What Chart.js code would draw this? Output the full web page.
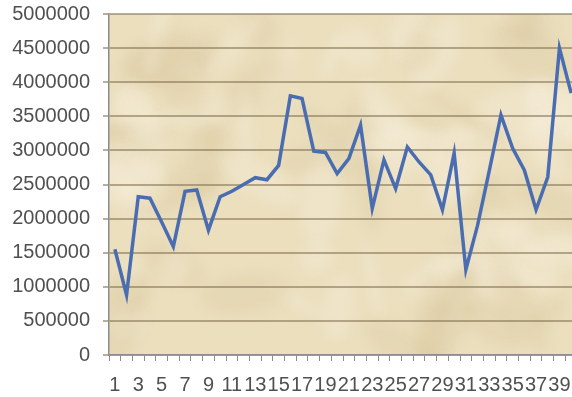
<!DOCTYPE html>
<html>
<head>
<meta charset="utf-8">
<script src="https://cdn.jsdelivr.net/npm/chart.js@4/dist/chart.umd.min.js"></script>
<style>
  html, body { margin: 0; padding: 0; background: #ffffff; overflow: hidden; }
  #wrap { position: relative; width: 590px; height: 397px; }
</style>
</head>
<body>
<div id="wrap"><canvas id="c"></canvas></div>
<script>
// Categories 1..40
const categories = ['1','2','3','4','5','6','7','8','9','10','11','12','13','14','15','16','17','18','19','20',
                    '21','22','23','24','25','26','27','28','29','30','31','32','33','34','35','36','37','38','39','40'];

// Series values
const values = [1550000, 880000, 2320000, 2300000, 1950000, 1590000, 2400000, 2420000, 1830000, 2320000,
                2400000, 2500000, 2600000, 2570000, 2780000, 3800000, 3760000, 2990000, 2970000, 2660000,
                2880000, 3370000, 2150000, 2860000, 2440000, 3050000, 2830000, 2640000, 2130000, 2960000,
                1250000, 1900000, 2700000, 3520000, 3030000, 2710000, 2130000, 2610000, 4500000, 3840000];

// Value axis settings
const yMin = 0;
const yMax = 5000000;
const yStep = 500000;

// Parchment fill behind the plot area
function hash(n) {
  const s = Math.sin(n * 127.1 + 311.7) * 43758.5453;
  return s - Math.floor(s);
}
const parchment = {
  id: 'parchment',
  beforeDraw(chart) {
    const { ctx, chartArea: a } = chart;
    ctx.save();
    ctx.beginPath();
    ctx.rect(a.left, a.top, a.right - a.left, a.bottom - a.top);
    ctx.clip();
    ctx.fillStyle = '#ebdfbe';
    ctx.fillRect(a.left, a.top, a.right - a.left, a.bottom - a.top);
    ctx.filter = 'blur(6px)';
    for (let i = 0; i < 90; i++) {
      const x = a.left + hash(i) * (a.right - a.left);
      const y = a.top + hash(i + 100) * (a.bottom - a.top);
      const rx = 15 + hash(i + 200) * 40;
      const ry = 6 + hash(i + 300) * 16;
      const light = hash(i + 400) > 0.5;
      ctx.fillStyle = light ? 'rgba(246,239,218,0.35)' : 'rgba(216,199,156,0.28)';
      ctx.beginPath();
      ctx.ellipse(x, y, rx, ry, hash(i + 500) * Math.PI, 0, Math.PI * 2);
      ctx.fill();
    }
    ctx.restore();
  }
};

const gridColor = 'rgba(128,110,78,0.55)';
const axisColor = '#8c8c8c';
const labelColor = '#505050';

new Chart(document.getElementById('c'), {
  type: 'line',
  data: {
    labels: categories,
    datasets: [{
      data: values,
      borderColor: '#4a6db2',
      borderWidth: 3.5,
      pointRadius: 0,
      tension: 0,
      fill: false
    }]
  },
  options: {
    responsive: true,
    maintainAspectRatio: false,
    animation: false,
    layout: { padding: { top: 14, right: 13, bottom: 0, left: 0 } },
    plugins: { legend: { display: false }, tooltip: { enabled: false } },
    scales: {
      x: {
        offset: true,
        grid: {
          offset: true,
          drawOnChartArea: false,
          drawTicks: true,
          tickLength: 6,
          color: axisColor
        },
        border: { display: true, color: axisColor, width: 1.5 },
        ticks: {
          autoSkip: false,
          maxRotation: 0,
          minRotation: 0,
          padding: 12,
          color: labelColor,
          font: { family: 'Liberation Sans', size: 20 },
          callback: (v, i) => (i % 2 === 0 ? categories[i] : '')
        },
        afterFit: (s) => { s.height = 42; s.paddingLeft = 0; s.paddingRight = 0; }
      },
      y: {
        min: yMin,
        max: yMax,
        grid: {
          color: gridColor,
          lineWidth: 2,
          drawTicks: true,
          tickLength: 6
        },
        border: { display: true, color: axisColor, width: 1.5 },
        ticks: {
          stepSize: yStep,
          padding: 13,
          color: labelColor,
          font: { family: 'Liberation Sans', size: 20 },
          callback: (v) => String(v)
        },
        afterFit: (s) => { s.width = 109; s.paddingTop = 0; s.paddingBottom = 0; }
      }
    }
  },
  plugins: [parchment]
});
</script>
</body>
</html>
